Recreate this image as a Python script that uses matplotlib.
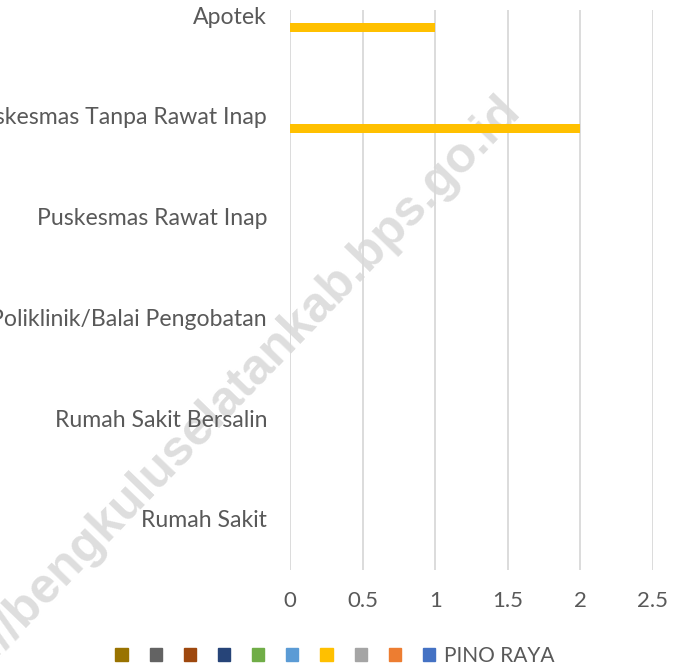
import matplotlib.pyplot as plt
from matplotlib.patches import Patch
import numpy as np

plt.rcParams["font.family"] = ["Lato", "DejaVu Sans"]

# kategori (dari bawah ke atas)
kategori = ["Rumah Sakit", "Rumah Sakit Bersalin", "Poliklinik/Balai Pengobatan",
            "Puskesmas Rawat Inap", "Puskesmas Tanpa Rawat Inap", "Apotek"]

# nama seri sesuai urutan legenda
seri = ["", "", "", "", "", "", "", "", "", "PINO RAYA"]
warna = ["#997300", "#636363", "#9E480E", "#264478", "#70AD47",
         "#5B9BD5", "#FFC000", "#A5A5A5", "#ED7D31", "#4472C4"]

# nilai tiap seri per kategori
nilai = [
    [0, 0, 0, 0, 0, 0],
    [0, 0, 0, 0, 0, 0],
    [0, 0, 0, 0, 0, 0],
    [0, 0, 0, 0, 0, 0],
    [0, 0, 0, 0, 0, 0],
    [0, 0, 0, 0, 0, 0],
    [0, 0, 0, 0, 2, 1],
    [0, 0, 0, 0, 0, 0],
    [0, 0, 0, 0, 0, 0],
    [0, 0, 0, 0, 0, 0],
]

xticks = [0, 0.5, 1, 1.5, 2, 2.5]

fig = plt.figure(figsize=(6.98, 6.70), dpi=100)
ax = fig.add_axes([290 / 698, 100 / 670, 363 / 698, 560 / 670])
ax.patch.set_alpha(0)

y = np.arange(len(kategori))
h = 0.083
for i, (nama, c, v) in enumerate(zip(seri, warna, nilai)):
    ax.barh(y - (i - 4.5) * h, v, height=h, color=c, label=nama, zorder=3)

ax.set_xlim(0, 2.5)
ax.set_ylim(-0.506, 5.05)
ax.set_xticks(xticks)
ax.set_xticklabels([f"{t:g}" for t in xticks])
ax.set_yticks(y)
ax.set_yticklabels(kategori, fontsize=16.6)

for s in ax.spines.values():
    s.set_visible(False)
ax.grid(axis="x", color="#d9d9d9", linewidth=1.3, zorder=0)
ax.tick_params(axis="both", length=0, colors="#595959")
ax.tick_params(axis="x", pad=15, labelsize=16)
ax.tick_params(axis="y", pad=16.5)

# legenda di bawah
handles = [Patch(color=c) for c in warna]
fig.legend(handles, seri, loc="center", bbox_to_anchor=(335 / 698, 1 - 656 / 670),
           ncol=10, frameon=False, fontsize=15, labelcolor="#595959",
           handlelength=0.58, handleheight=0.58, handletextpad=0.43,
           columnspacing=0.63, borderpad=0)

# watermark (di belakang grafik)
fig.text(215 / 698, 1 - 410 / 670, "http://bengkuluselatankab.bps.go.id",
         rotation=46, rotation_mode="anchor", ha="center", va="center",
         fontsize=36, fontweight="bold", color="#dedede",
         family="Liberation Sans", zorder=-1)

fig.savefig("out.png", dpi=100)
